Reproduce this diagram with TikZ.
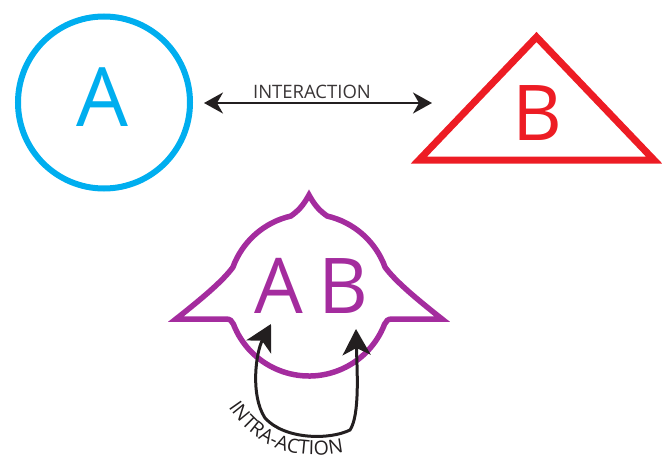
\documentclass[tikz,border=0pt]{standalone}
\usepackage{fontspec}
\setmainfont{Open Sans}
\usetikzlibrary{arrows.meta,calc,decorations.text}
\definecolor{cyanA}{RGB}{0,174,239}
\definecolor{redB}{RGB}{237,28,36}
\definecolor{purpAB}{RGB}{164,44,158}
\definecolor{ink}{RGB}{35,31,32}
\begin{document}
\begin{tikzpicture}[x=1pt,y=-1pt,
  letter/.style={inner sep=0pt, anchor=base},
  smallarrow/.style={ink, line width=2, {Stealth[length=19pt,width=21pt,inset=6pt]}-{Stealth[length=19pt,width=21pt,inset=6pt]}},
  bigarrow/.style={ink, line width=3, {Stealth[length=26pt,width=28pt,inset=7pt]}-{Stealth[length=26pt,width=28pt,inset=7pt]}}]
\useasboundingbox (0,0) rectangle (662,460);
% A: circle
\node[circle, draw=cyanA, line width=6, minimum size=172pt, inner sep=0pt] (A) at (104,102.5) {};
\node[letter, text=cyanA, font=\fontsize{82}{82}\selectfont] (Aletter) at (102,127) {A};
% B: triangle
\coordinate (Btop) at (536.5,37);
\coordinate (Bright) at (654,160);
\coordinate (Bleft) at (419,160);
\draw[redB, line width=7, line join=miter] (Btop) -- (Bright) -- (Bleft) -- cycle;
\node[letter, text=redB, font=\fontsize{77}{77}\selectfont] (Bletter) at (537,140) {B};
% interaction arrow
\coordinate (il) at (204,103);
\coordinate (ir) at (432,103);
\draw[smallarrow] (il) -- (ir);
\node[letter, text=ink!90, font=\fontsize{18.5}{18.5}\selectfont] (inter) at (312,99) {INTERACTION};
% AB shape
\coordinate (c) at (309,295);
\draw[purpAB, line width=5.5, line join=miter]
  (309,195) .. controls (303,206) and (298,211) .. ($(c)+(257:81)$)
  arc[start angle=257, end angle=200, radius=81]
  .. controls (222,282) and (200,300) .. (176,319)
  -- (226,319) .. controls (230,319) and (232,321) .. ($(c)+(159:81)$)
  arc[start angle=159, end angle=21, radius=81]
  .. controls (386,321) and (388,319) .. (392,319)
  -- (442,319) .. controls (418,300) and (396,282) .. ($(c)+(-20:81)$)
  arc[start angle=-20, end angle=-77, radius=81]
  .. controls (320,211) and (315,206) .. cycle;
\node[letter, text=purpAB, font=\fontsize{77}{77}\selectfont] (ABa) at (279,313) {A};
\node[letter, text=purpAB, font=\fontsize{77}{77}\selectfont] (ABb) at (343,313) {B};
% intra-action arrow
\coordinate (t1) at (271,324);
\coordinate (t2) at (356,329);
\draw[bigarrow]
  (t1) .. controls (256,352) and (250,395) .. (265,418)
  .. controls (285,440) and (330,440) .. (350,430)
  .. controls (360,415) and (357,370) .. (t2);
{\fontsize{19.5}{19.5}\selectfont
\path[decorate, decoration={text along path, text color=ink, text align=center,
  text={INTRA-ACTION}}]
  (224,400) .. controls (248,440) and (285,466) .. (352,450);
}
\end{tikzpicture}
\end{document}
